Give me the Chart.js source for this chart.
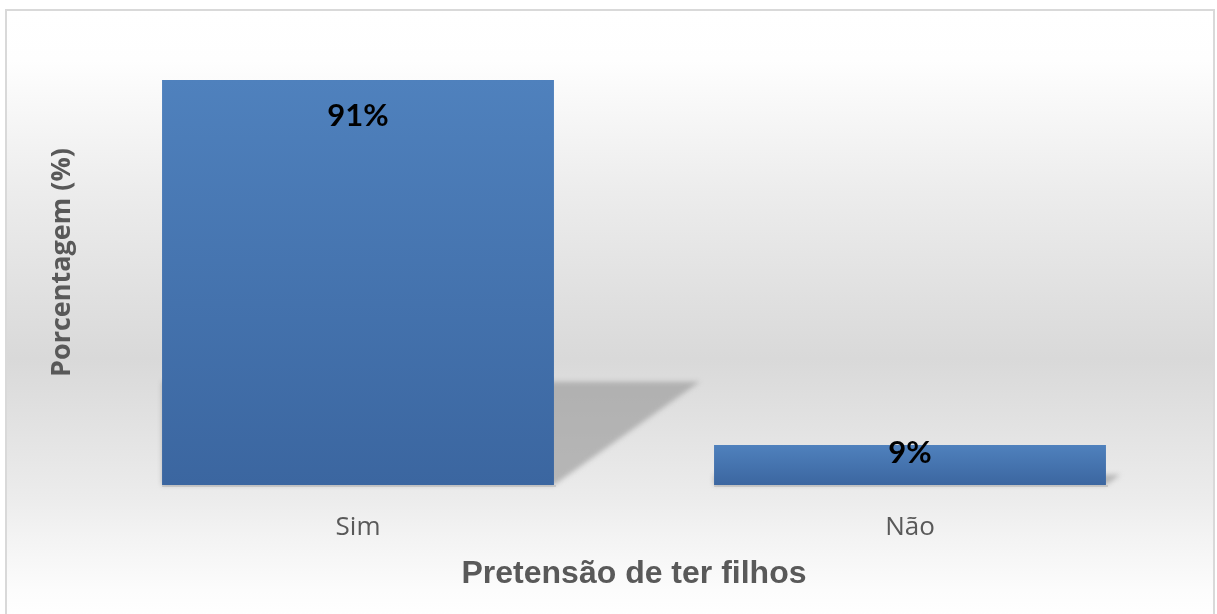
<!DOCTYPE html>
<html>
<head>
<meta charset="utf-8">
<script src="https://cdn.jsdelivr.net/npm/chart.js@4/dist/chart.umd.min.js"></script>
<style>
  html, body { margin: 0; padding: 0; background: #ffffff; overflow: hidden; }
  #frame {
    position: absolute; left: 5px; top: 9px; width: 1206px; height: 610px;
    border: 2px solid #d9d9d9;
    background: linear-gradient(to bottom, #ffffff 0%, #fefefe 8%, #ececec 30%, #d9d9d9 57%, #ececec 80%, #f3f3f3 86%, #fcfcfc 95%, #ffffff 100%);
  }
  #wrap { position: absolute; left: 0; top: 0; width: 1217px; height: 614px; }
</style>
</head>
<body>
<div id="frame"></div>
<div id="wrap"><canvas id="c" width="1217" height="614"></canvas></div>
<script>
const categories = ["Sim", "Não"];
const percentValues = [91, 9];
const xAxisTitle = "Pretensão de ter filhos";
const yAxisTitle = "Porcentagem (%)";

const shadowPlugin = {
  id: 'barShadow',
  beforeDatasetsDraw(chart) {
    const ctx = chart.ctx;
    const meta = chart.getDatasetMeta(0);
    const base = chart.scales.y.getPixelForValue(0);
    ctx.save();
    meta.data.forEach(bar => {
      const h = base - bar.y;
      const left = bar.x - bar.width / 2;
      const right = bar.x + bar.width / 2;
      const topS = base - h * 0.255;
      const ext = h * 0.36;
      ctx.filter = 'blur(2.5px)';
      ctx.fillStyle = 'rgba(150,150,150,0.62)';
      ctx.beginPath();
      ctx.moveTo(left, topS);
      ctx.lineTo(right + ext, topS);
      ctx.lineTo(right, base);
      ctx.lineTo(left, base);
      ctx.closePath();
      ctx.fill();
      ctx.filter = 'none';
      ctx.fillStyle = 'rgba(170,170,170,0.45)';
      ctx.fillRect(left, base, bar.width + 2, 2);
    });
    ctx.restore();
  }
};

const labelPlugin = {
  id: 'barLabels',
  afterDatasetsDraw(chart) {
    const ctx = chart.ctx;
    const meta = chart.getDatasetMeta(0);
    const base = chart.scales.y.getPixelForValue(0);
    ctx.save();
    ctx.font = 'bold 31px Lato, "Open Sans", sans-serif';
    ctx.fillStyle = '#000000';
    ctx.textAlign = 'center';
    ctx.textBaseline = 'middle';
    meta.data.forEach((bar, i) => {
      const y = Math.min(bar.y + 36, base - 32);
      ctx.fillText(percentValues[i] + '%', bar.x, y);
    });
    ctx.restore();
  }
};

new Chart(document.getElementById('c'), {
  type: 'bar',
  data: {
    labels: categories,
    datasets: [{
      data: percentValues,
      backgroundColor(context) {
        const chart = context.chart;
        const y = chart.scales && chart.scales.y;
        if (!chart.chartArea || !y || context.parsed === undefined) return '#4a7ab5';
        const top = y.getPixelForValue(context.parsed.y);
        const bottom = y.getPixelForValue(0);
        if (!isFinite(top) || !isFinite(bottom) || top === bottom) return '#4a7ab5';
        const g = chart.ctx.createLinearGradient(0, top, 0, bottom);
        g.addColorStop(0, '#4f81bd');
        g.addColorStop(1, '#3b66a0');
        return g;
      },
      borderWidth: 0,
      barPercentage: 0.71,
      categoryPercentage: 1.0
    }]
  },
  options: {
    responsive: false,
    animation: false,
    layout: { padding: { left: 0, right: 31, top: 40, bottom: 21 } },
    plugins: { legend: { display: false }, tooltip: { enabled: false } },
    scales: {
      x: {
        grid: { display: false, drawTicks: false },
        border: { display: false },
        ticks: { color: '#595959', font: { family: '"Open Sans", sans-serif', size: 26 }, padding: 27, maxRotation: 0 },
        title: {
          display: true, text: xAxisTitle, color: '#595959',
          font: { family: '"Liberation Sans", Arial, sans-serif', size: 32, weight: 'bold' },
          padding: { top: 0, bottom: 0 }
        },
        afterFit(scale) { scale.height = 108; }
      },
      y: {
        min: 0, max: 100,
        grid: { display: false, drawTicks: false },
        border: { display: false },
        ticks: { display: false },
        title: {
          display: true, text: yAxisTitle, color: '#595959',
          font: { family: '"Open Sans", sans-serif', size: 27, weight: 'bold' },
          padding: { top: 46, bottom: 0 }
        },
        afterFit(scale) { scale.width = 82; }
      }
    }
  },
  plugins: [shadowPlugin, labelPlugin]
});
</script>
</body>
</html>
